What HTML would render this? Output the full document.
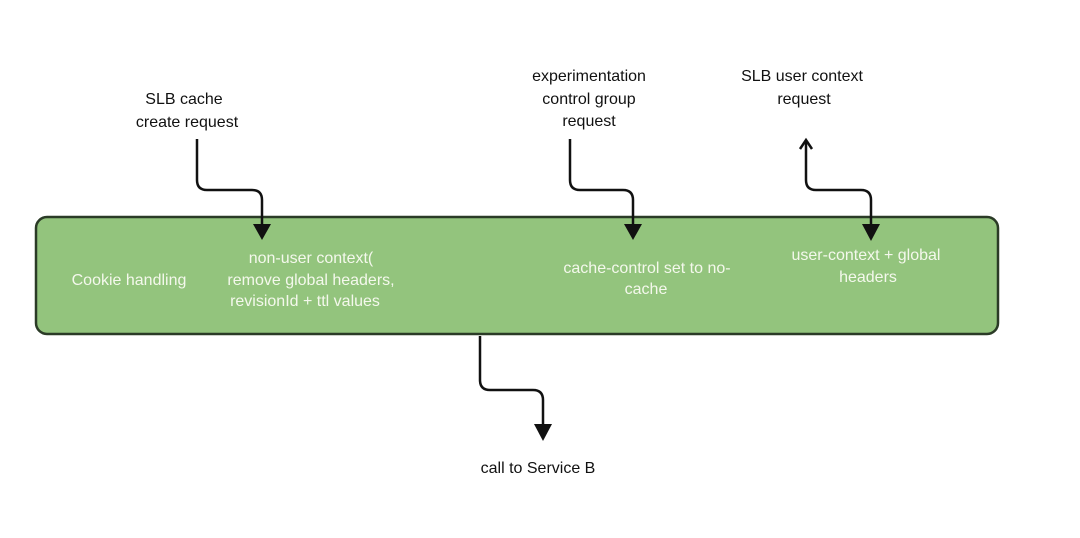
<!DOCTYPE html>
<html><head><meta charset="utf-8"><style>
html,body{margin:0;padding:0;background:#fff;width:1080px;height:538px;overflow:hidden}
svg{display:block}
text{font-family:"Liberation Sans",Arial,sans-serif;font-size:16px}
</style></head><body>
<svg width="1080" height="538" viewBox="0 0 1080 538" xmlns="http://www.w3.org/2000/svg">
<rect x="36" y="217" width="962" height="117" rx="11" ry="11" fill="#93c47d" stroke="#2b3b27" stroke-width="2.5"/>
<g fill="none" stroke="#111" stroke-width="2.5">
<path d="M197 139 V180 Q197 190 207 190 H252 Q262 190 262 200 V226"/>
<path d="M570 139 V180 Q570 190 580 190 H623 Q633 190 633 200 V226"/>
<path d="M806 142 V180 Q806 190 816 190 H861 Q871 190 871 200 V226"/>
<path d="M480 336 V380 Q480 390 490 390 H533 Q543 390 543 400 V426"/>
<path d="M800 149 L806 140 L812 149"/>
</g>
<g fill="#111">
<polygon points="253,224 271,224 262,240"/>
<polygon points="624,224 642,224 633,240"/>
<polygon points="862,224 880,224 871,241"/>
<polygon points="534,424 552,424 543,441"/>
</g>
<g fill="#111" text-anchor="middle">
<text x="184" y="104">SLB cache</text>
<text x="187" y="127">create request</text>
<text x="589" y="81">experimentation</text>
<text x="589" y="104">control group</text>
<text x="589" y="126">request</text>
<text x="802" y="81">SLB user context</text>
<text x="804" y="104">request</text>
<text x="538" y="473">call to Service B</text>
</g>
<g fill="#f4f8ec" text-anchor="middle">
<text x="129" y="285">Cookie handling</text>
<text x="311" y="263">non-user context(</text>
<text x="311" y="285">remove global headers,</text>
<text x="305" y="306">revisionId + ttl values</text>
<text x="647" y="273">cache-control set to no-</text>
<text x="646" y="294">cache</text>
<text x="866" y="260">user-context + global</text>
<text x="868" y="282">headers</text>
</g>
</svg>
</body></html>
